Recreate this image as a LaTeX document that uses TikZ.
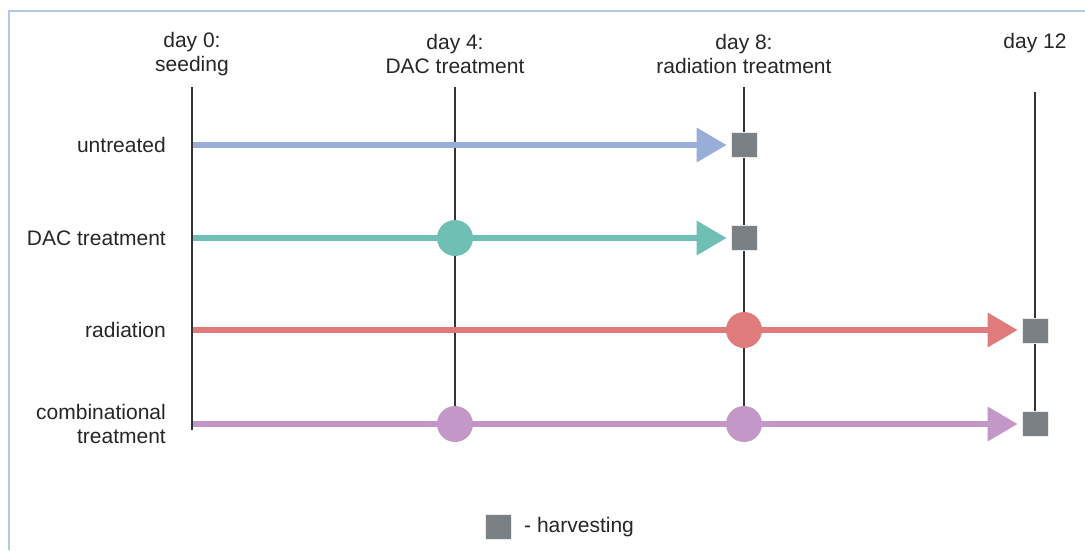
\documentclass[tikz,border=0pt]{standalone}
\usepackage{fontspec}
\setmainfont{Liberation Sans}
\usetikzlibrary{arrows.meta}
\definecolor{frameblue}{HTML}{B4C7E7}
\definecolor{cuntr}{HTML}{98AED8}
\definecolor{cdac}{HTML}{6FBFB5}
\definecolor{crad}{HTML}{E07B7B}
\definecolor{ccomb}{HTML}{C397C8}
\definecolor{charv}{HTML}{7A8083}
\definecolor{cline}{HTML}{333333}
\definecolor{ctext}{HTML}{262626}
\tikzset{
  lbl/.style={font=\fontsize{21}{23.5}\selectfont, text=ctext, align=center, inner sep=0pt},
  rowlbl/.style={lbl, align=right, anchor=east},
  dayline/.style={draw=cline, line width=2.8pt},
  harv/.style={rectangle, fill=charv, draw=white!85!charv, line width=0.6pt, minimum width=26pt, minimum height=25pt, inner sep=0pt},
  event/.style={circle, minimum size=36pt, inner sep=0pt},
  tl/.style={line width=6.5pt, -{Triangle[length=30pt, width=33pt]}, shorten >=4pt},
}
\begin{document}
\begin{tikzpicture}[x=1pt,y=-1pt]
\useasboundingbox (0,0) rectangle (1085,550);
\draw[frameblue, line width=1.5pt] (9,550) -- (9,11) -- (1085,11);

% day labels
\node[lbl] (l0) at (192,54) {day 0:\\seeding};
\node[lbl] (l4) at (455,54) {day 4:\\DAC treatment};
\node[lbl] (l8) at (744,54) {day 8:\\radiation treatment};
\node[lbl] (l12) at (1035,43) {day 12};

% coordinates
\coordinate (t0) at (192,87);
\coordinate (b0) at (192,430);
\coordinate (t4) at (455,87);
\coordinate (b4) at (455,424);
\coordinate (t8) at (744,87);
\coordinate (b8) at (744,424);
\coordinate (t12) at (1035,92);
\coordinate (b12) at (1035,424);

\draw[dayline] (t0) -- (b0);
\draw[dayline] (t4) -- (b4);
\draw[dayline] (t8) -- (b8);
\draw[dayline] (t12) -- (b12);

% row labels
\node[rowlbl] (r1) at (166,145) {untreated};
\node[rowlbl] (r2) at (166,238) {DAC treatment};
\node[rowlbl] (r3) at (166,330) {radiation};
\node[rowlbl] (r4) at (166,424) {combinational\\treatment};

% harvest squares
\node[harv] (h1) at (744,145) {};
\node[harv] (h2) at (744,238) {};
\node[harv] (h3) at (1035,331) {};
\node[harv] (h4) at (1035,424) {};

% starts
\coordinate (s1) at (193,145);
\coordinate (s2) at (193,238);
\coordinate (s3) at (193,330);
\coordinate (s4) at (193,424);

\draw[tl, cuntr] (s1) -- (h1.west);
\draw[tl, cdac] (s2) -- (h2.west);
\draw[tl, crad] (s3) -- (h3.west |- s3);
\draw[tl, ccomb] (s4) -- (h4.west);

% events
\node[event, fill=cdac] (e2) at (455,238) {};
\node[event, fill=crad] (e3) at (744,330) {};
\node[event, fill=ccomb] (e4a) at (455,424) {};
\node[event, fill=ccomb] (e4b) at (744,424) {};

% legend
\node[harv] (lg) at (498,527) {};
\node[lbl, anchor=west] (lgt) at (524,527) {- harvesting};
\end{tikzpicture}
\end{document}
